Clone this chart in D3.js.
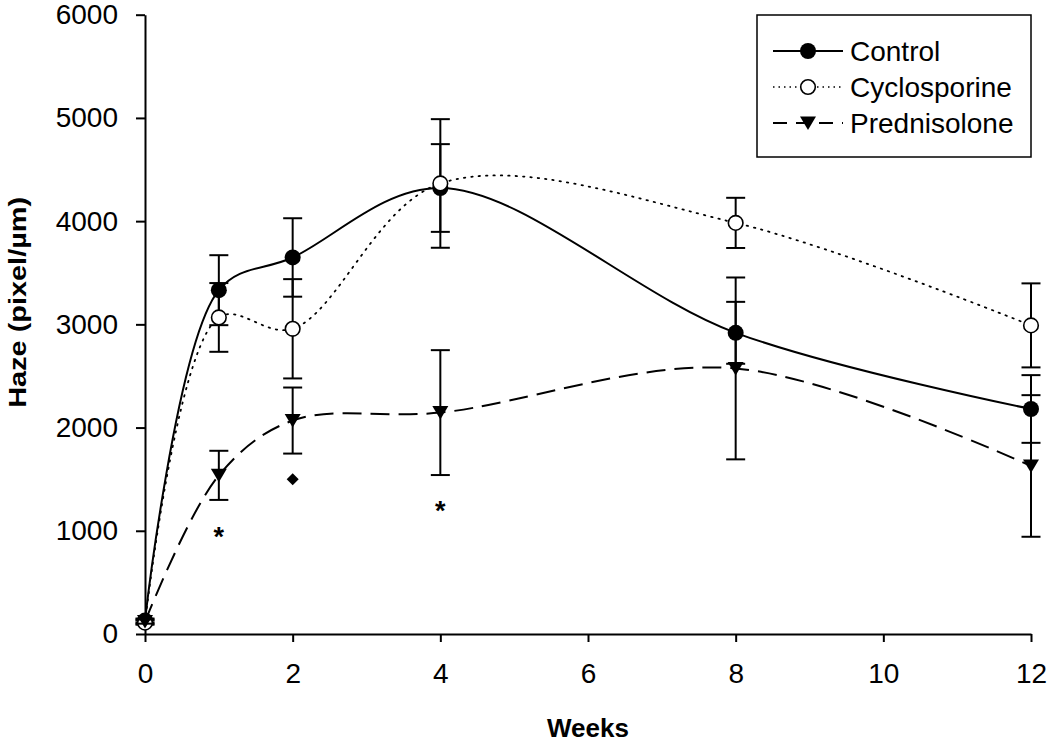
<!DOCTYPE html>
<html>
<head>
<meta charset="utf-8">
<script src="https://cdn.jsdelivr.net/npm/d3@7"></script>
<style>
  html, body { margin: 0; padding: 0; background: #fff; }
  svg { display: block; font-family: "Liberation Sans", Arial, sans-serif; }
</style>
</head>
<body>
<svg id="chart" width="1050" height="745"></svg>
<script>
// ---- data ----
const weeks = [0, 1, 2, 4, 8, 12];
const seriesNames = ["Control", "Cyclosporine", "Prednisolone"];
const controlValues = [130, 3331, 3648, 4321, 2918, 2180];
const controlErrors = [20, 339, 380, 425, 300, 328];
const cycloValues = [110, 3067, 2957, 4365, 3983, 2990];
const cycloErrors = [20, 333, 481, 623, 243, 407];
const predValues = [120, 1537, 2068, 2145, 2573, 1628];
const predErrors = [20, 238, 320, 605, 881, 686];
const xTicks = [0, 2, 4, 6, 8, 10, 12];
const yTicks = [0, 1000, 2000, 3000, 4000, 5000, 6000];
const annotWeeks = [1, 2, 4];
const annotValues = [1020, 1500, 1265];
const annotSymbols = ["*", "diamond", "*"];

// ---- layout ----
const svg = d3.select("#chart");
const x = d3.scaleLinear().domain([0, 12]).range([145, 1031]);
const y = d3.scaleLinear().domain([0, 6000]).range([634, 14.7]);

const series = [
  { name: seriesNames[0], values: controlValues, errors: controlErrors, dash: null, marker: "filled" },
  { name: seriesNames[1], values: cycloValues, errors: cycloErrors, dash: "1.4,6", marker: "open" },
  { name: seriesNames[2], values: predValues, errors: predErrors, dash: "19,9", marker: "tri" }
];

// axes
const yAxis = d3.axisLeft(y).tickValues(yTicks).tickSizeInner(9).tickSizeOuter(0).tickPadding(18).tickFormat(d3.format("d"));
const xAxis = d3.axisBottom(x).tickValues(xTicks).tickSizeInner(8).tickSizeOuter(0).tickPadding(21).tickFormat(d3.format("d"));

const gy = svg.append("g").attr("transform", `translate(${x(0)},0)`).call(yAxis);
const gx = svg.append("g").attr("transform", `translate(0,${y(0)})`).call(xAxis);
[gx, gy].forEach(g => {
  g.selectAll("path.domain").attr("stroke", "#000").attr("stroke-width", 2);
  g.selectAll(".tick line").attr("stroke", "#000").attr("stroke-width", 2);
  g.selectAll(".tick text").attr("fill", "#000").style("font-size", "28px")
    .style("font-family", "'Liberation Sans', Arial, sans-serif");
});

// axis titles
svg.append("text").attr("x", 588).attr("y", 737).attr("text-anchor", "middle")
  .style("font-size", "26px").style("font-weight", "bold").text("Weeks");
svg.append("text").attr("transform", `translate(26,${(y(0) + y(6000)) / 2 - 22}) rotate(-90)`)
  .attr("text-anchor", "middle").style("font-size", "24px").style("font-weight", "bold")
  .attr("textLength", 211).attr("lengthAdjust", "spacingAndGlyphs")
  .text("Haze (pixel/µm)");

// marker drawing
function drawMarker(sel, type) {
  if (type === "filled") {
    sel.append("circle").attr("r", 8).attr("fill", "#000");
  } else if (type === "open") {
    sel.append("circle").attr("r", 7.3).attr("fill", "#fff").attr("stroke", "#000").attr("stroke-width", 1.6);
  } else {
    sel.append("path").attr("d", "M-8,-6.5 L8,-6.5 L0,7 Z").attr("fill", "#000");
  }
}

const line = d3.line().x((d, i) => x(weeks[i])).y(d => y(d)).curve(d3.curveCatmullRom.alpha(0.5));
const capW = 9.5;

series.forEach(s => {
  const g = svg.append("g");
  // error bars
  s.values.forEach((v, i) => {
    const e = s.errors[i];
    const cx = x(weeks[i]);
    g.append("line").attr("x1", cx).attr("x2", cx).attr("y1", y(v + e)).attr("y2", y(v - e))
      .attr("stroke", "#000").attr("stroke-width", 2);
    [v + e, v - e].forEach(c => {
      g.append("line").attr("x1", cx - capW).attr("x2", cx + capW).attr("y1", y(c)).attr("y2", y(c))
        .attr("stroke", "#000").attr("stroke-width", 2);
    });
  });
  // curve
  g.append("path").attr("d", line(s.values)).attr("fill", "none").attr("stroke", "#000")
    .attr("stroke-width", s.marker === "open" ? 1.8 : 2)
    .attr("stroke-dasharray", s.dash)
    .attr("stroke-linecap", s.marker === "open" ? "round" : "butt");
  // markers
  s.values.forEach((v, i) => {
    const m = g.append("g").attr("transform", `translate(${x(weeks[i])},${y(v)})`);
    drawMarker(m, s.marker);
  });
});

// annotations
annotWeeks.forEach((w, i) => {
  if (annotSymbols[i] === "diamond") {
    svg.append("path").attr("transform", `translate(${x(w)},${y(annotValues[i])})`)
      .attr("d", "M0,-6 L6,0 L0,6 L-6,0 Z").attr("fill", "#000");
  } else {
    svg.append("text").attr("x", x(w)).attr("y", y(annotValues[i]) + 17)
      .attr("text-anchor", "middle").style("font-size", "27px").style("font-weight", "bold")
      .text("*");
  }
});

// legend
const lg = svg.append("g");
lg.append("rect").attr("x", 757).attr("y", 15).attr("width", 274).attr("height", 142)
  .attr("fill", "#fff").attr("stroke", "#000").attr("stroke-width", 1.5);
const legendY = [51, 87, 123];
series.forEach((s, i) => {
  const ly = legendY[i];
  lg.append("line").attr("x1", 773).attr("x2", 843).attr("y1", ly).attr("y2", ly)
    .attr("stroke", "#000").attr("stroke-width", s.marker === "open" ? 1.4 : 2)
    .attr("stroke-dasharray", s.marker === "open" ? "1.5,4" : (s.dash ? "14,9" : null));
  const m = lg.append("g").attr("transform", `translate(808,${ly})`);
  drawMarker(m, s.marker);
  lg.append("text").attr("x", 850).attr("y", ly + 10).style("font-size", "28px").text(s.name);
});
</script>
</body>
</html>
